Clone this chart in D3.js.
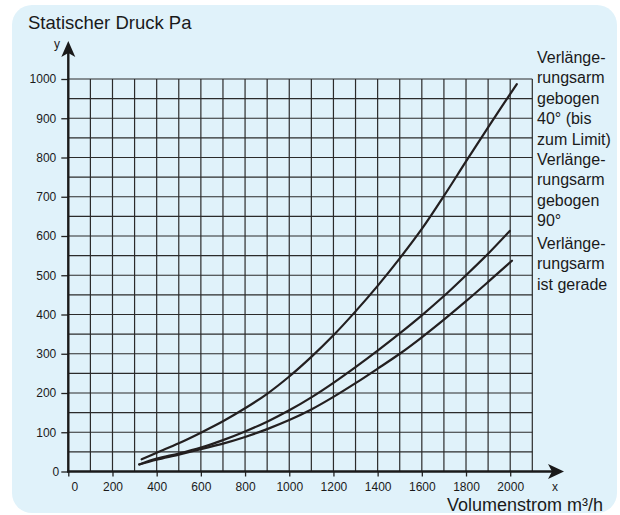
<!DOCTYPE html>
<html>
<head>
<meta charset="utf-8">
<script src="https://cdn.jsdelivr.net/npm/d3@7"></script>
<style>
	body { margin: 0; background: #fff; }
	svg { display: block; font-family: "Liberation Sans", Arial, sans-serif; }
</style>
</head>
<body>
<svg id="chart" width="620" height="515"></svg>
<script>
const xTicks = [0, 200, 400, 600, 800, 1000, 1200, 1400, 1600, 1800, 2000];
const yTicks = [0, 100, 200, 300, 400, 500, 600, 700, 800, 900, 1000];

// Volumenstrom m3/h , statischer Druck Pa
const bent40 = [[332, 31], [400, 48], [500, 72], [600, 99], [700, 128], [800, 161], [900, 198],
	[1000, 242], [1100, 292], [1200, 347], [1300, 408], [1400, 473], [1500, 543], [1600, 618],
	[1700, 702], [1800, 790], [1900, 877], [2030, 987]];
const bent90 = [[321, 18], [400, 33], [500, 46], [600, 61], [700, 80], [800, 102], [900, 127],
	[1000, 156], [1100, 189], [1200, 226], [1300, 266], [1400, 308], [1500, 352], [1600, 398],
	[1700, 447], [1800, 500], [1900, 555], [1998, 613]];
const straight = [[321, 18], [400, 30], [500, 43], [600, 57], [700, 71], [800, 88], [900, 108],
	[1000, 131], [1100, 158], [1200, 190], [1300, 225], [1400, 262], [1500, 300], [1600, 342],
	[1700, 387], [1800, 434], [1900, 483], [2008, 537]];

const seriesLabels = [
	["Verlänge-", "rungsarm", "gebogen", "40° (bis", "zum Limit)"],
	["Verlänge-", "rungsarm", "gebogen", "90°"],
	["Verlänge-", "rungsarm", "ist gerade"]
];

const svg = d3.select("#chart");

svg.append("rect")
	.attr("x", 12).attr("y", 5)
	.attr("width", 605).attr("height", 508)
	.attr("rx", 20).attr("ry", 20)
	.attr("fill", "#e0f2fa");

let xScale = d3.scaleLinear().domain([0, 2100]).range([68.3, 532.3]),
	yScale = d3.scaleLinear().domain([0, 1000]).range([471.5, 79]);

// grid
let grid = svg.append("g").attr("stroke", "#2b2b2b").attr("stroke-width", 1.2);
grid.selectAll("line.v")
	.data(d3.range(100, 2101, 100))
	.enter().append("line")
	.attr("x1", d => xScale(d)).attr("x2", d => xScale(d))
	.attr("y1", yScale(0)).attr("y2", yScale(1000));
grid.selectAll("line.h")
	.data(d3.range(50, 1001, 50))
	.enter().append("line")
	.attr("x1", xScale(0)).attr("x2", xScale(2100))
	.attr("y1", d => yScale(d)).attr("y2", d => yScale(d));

// axes
let xAxis = d3.axisBottom(xScale).tickValues(xTicks).tickSize(5).tickPadding(6).tickFormat(d3.format("d")),
	yAxis = d3.axisLeft(yScale).tickValues(yTicks).tickSize(7).tickPadding(5).tickFormat(d3.format("d"));

let gx = svg.append("g")
	.attr("transform", "translate(0," + yScale(0) + ")")
	.call(xAxis);
let gy = svg.append("g")
	.attr("transform", "translate(" + xScale(0) + ",0)")
	.call(yAxis);

[gx, gy].forEach(g => {
	g.select(".domain").remove();
	g.selectAll(".tick line").attr("stroke", "#222").attr("stroke-width", 1.3);
	g.selectAll(".tick text")
		.attr("fill", "#1a1a1a")
		.style("font-size", "12px")
		.style("font-family", "Liberation Sans, Arial, sans-serif");
});
gx.selectAll(".tick text").filter(d => d === 0).attr("dx", 6);
gy.selectAll(".tick text").filter(d => d === 0).attr("dx", 3);

// axis lines with arrow heads
svg.append("line")
	.attr("x1", xScale(0)).attr("x2", xScale(0))
	.attr("y1", yScale(0) + 1).attr("y2", 52)
	.attr("stroke", "#1a1a1a").attr("stroke-width", 2.4);
svg.append("path")
	.attr("d", "M0,0 L7,16 L0,12 L-7,16 Z")
	.attr("transform", "translate(" + xScale(0) + ",41)")
	.attr("fill", "#1a1a1a");
svg.append("line")
	.attr("x1", xScale(0) - 1).attr("x2", 552)
	.attr("y1", yScale(0)).attr("y2", yScale(0))
	.attr("stroke", "#1a1a1a").attr("stroke-width", 2.4);
svg.append("path")
	.attr("d", "M0,0 L-16,-7.5 L-12,0 L-16,7.5 Z")
	.attr("transform", "translate(564," + yScale(0) + ")")
	.attr("fill", "#1a1a1a");

svg.append("text").attr("x", 57).attr("y", 48)
	.attr("text-anchor", "middle").style("font-size", "12px").attr("fill", "#1a1a1a").text("y");
svg.append("text").attr("x", 555).attr("y", 491)
	.attr("text-anchor", "middle").style("font-size", "12px").attr("fill", "#1a1a1a").text("x");

// curves
let lineGen = d3.line()
	.x(d => xScale(d[0]))
	.y(d => yScale(d[1]))
	.curve(d3.curveCatmullRom.alpha(0.5));

[bent40, bent90, straight].forEach(s => {
	svg.append("path")
		.attr("d", lineGen(s))
		.attr("fill", "none")
		.attr("stroke", "#231f20")
		.attr("stroke-width", 2.2)
		.attr("stroke-linecap", "round");
});

// titles
svg.append("text").attr("x", 28).attr("y", 29)
	.style("font-size", "18.5px").attr("fill", "#1a1a1a").text("Statischer Druck Pa");
svg.append("text").attr("x", 603).attr("y", 511)
	.attr("text-anchor", "end")
	.style("font-size", "18px").attr("fill", "#1a1a1a").text("Volumenstrom m³/h");

// series labels on the right
const labelTops = [62.5, 164.5, 248.5];
seriesLabels.forEach((lines, i) => {
	let t = svg.append("text")
		.attr("x", 537).attr("y", labelTops[i])
		.style("font-size", "16px").attr("fill", "#1a1a1a");
	lines.forEach((l, k) => {
		t.append("tspan").attr("x", 537).attr("y", labelTops[i] + k * 20.5).text(l);
	});
});
</script>
</body>
</html>
